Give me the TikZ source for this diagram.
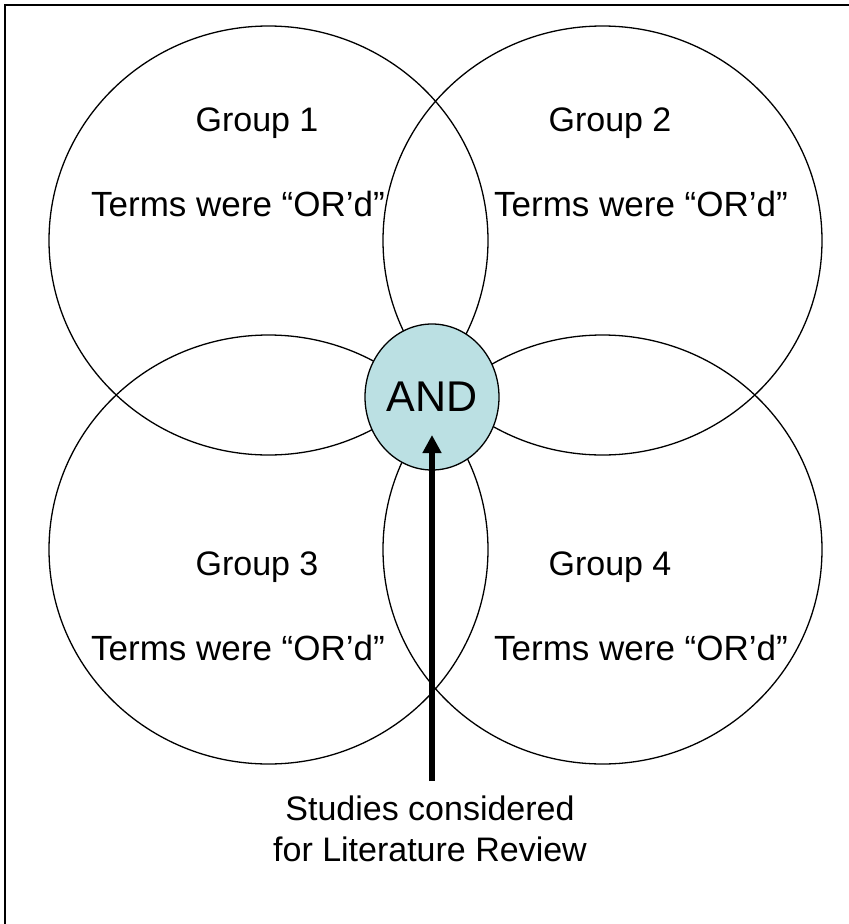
\documentclass[tikz,border=0pt]{standalone}
\usepackage{fontspec}
\setmainfont{Liberation Sans}
\usetikzlibrary{arrows.meta, shapes.geometric}
\definecolor{andfill}{HTML}{BBE0E3}
\definecolor{inkblack}{HTML}{000000}

\tikzset{
  grouplabel/.style={text=inkblack, font=\fontsize{34}{40}\selectfont, inner sep=0pt},
  termlabel/.style={text=inkblack, font=\fontsize{35}{42}\selectfont, inner sep=0pt},
  setline/.style={draw=inkblack, line width=1.3pt},
}

\begin{document}
\begin{tikzpicture}[x=1pt, y=-1pt]

% Canvas and frame
\useasboundingbox (0,0) rectangle (849,924);
\fill[white] (0,0) rectangle (849,924);
\draw[inkblack, line width=1.5pt] (5,924) -- (5,5) -- (849,5);

% The four search groups
\draw[setline] (268.5,240.5) ellipse (219.5pt and 214.5pt);
\draw[setline] (602.5,240.5) ellipse (219.5pt and 214.5pt);
\draw[setline] (268.5,549.5) ellipse (219.5pt and 214.5pt);
\draw[setline] (602.5,549.5) ellipse (219.5pt and 214.5pt);

% Group labels
\node[grouplabel] (g1) at (257,123) {Group 1};
\node[termlabel] (t1) at (238,204) {Terms were “OR’d”};
\node[grouplabel] (g2) at (610,123) {Group 2};
\node[termlabel] (t2) at (641,204) {Terms were “OR’d”};
\node[grouplabel] (g3) at (257,567) {Group 3};
\node[termlabel] (t3) at (238,648) {Terms were “OR’d”};
\node[grouplabel] (g4) at (610,567) {Group 4};
\node[termlabel] (t4) at (641,648) {Terms were “OR’d”};

% Intersection
\node[ellipse, setline, fill=andfill, minimum width=134pt, minimum height=146pt,
  inner sep=0pt, text=inkblack, font=\fontsize{43}{50}\selectfont] (and) at (432,397) {AND};

% Result
\node[grouplabel, align=center, font=\fontsize{34}{41}\selectfont] (studies) at (430,829)
  {Studies considered\\for Literature Review};
\coordinate (tip) at (432,435);
\draw[inkblack, line width=6pt, -{Triangle[length=18pt, width=18pt]}]
  (432,781) -- (tip);

\end{tikzpicture}
\end{document}
